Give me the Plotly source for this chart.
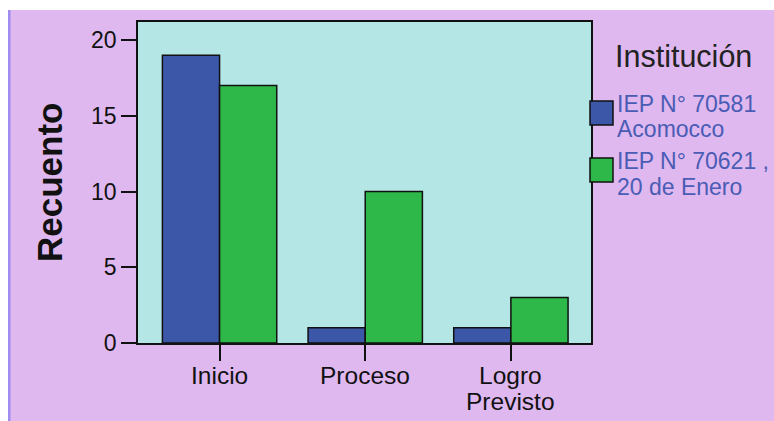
import plotly.graph_objects as go

categories = ["Inicio", "Proceso", "Logro<br>Previsto"]
series_names = ["IEP N° 70581", "IEP N° 70621"]
legend_lines = [["IEP N° 70581", "Acomocco"], ["IEP N° 70621 ,", "20 de Enero"]]
values_70581 = [19, 1, 1]
values_70621 = [17, 10, 3]
y_ticks = [0, 5, 10, 15, 20]
legend_title = "Institución"
y_title = "Recuento"

colors = ["#3C56A8", "#2EB84A"]
FONT = "Liberation Sans, Arial, sans-serif"

W, H = 774, 421
# plot area in page coordinates: x 138..591, y 22..343
L, T = 138, 22
R = W - 591
B = H - 343
pw, ph = W - L - R, H - T - B

def px(x):
    return (x - L) / pw

def py(y):
    return (H - B - y) / ph

fig = go.Figure()
for name, vals, col in zip(series_names, [values_70581, values_70621], colors):
    fig.add_trace(go.Bar(x=categories, y=vals, name=name,
                         marker=dict(color=col, line=dict(color="#111111", width=1.5)),
                         showlegend=False))

shapes = [
    dict(type="rect", xref="paper", yref="paper", x0=px(0), x1=px(W), y0=py(10), y1=py(0), fillcolor="white", line=dict(width=0), layer="below"),
    dict(type="rect", xref="paper", yref="paper", x0=px(0), x1=px(8), y0=py(H), y1=py(0), fillcolor="white", line=dict(width=0), layer="below"),
    dict(type="rect", xref="paper", yref="paper", x0=px(8), x1=px(10.5), y0=py(H), y1=py(10), fillcolor="#A08CF0", line=dict(width=0), layer="below"),
]
sq = [(101, 125), (158, 182)]
for (y0, y1), col in zip(sq, colors):
    shapes.append(dict(type="rect", xref="paper", yref="paper", x0=px(590), x1=px(613), y0=py(y1), y1=py(y0),
                       fillcolor=col, line=dict(color="#111111", width=1.5)))

annotations = [
    dict(text=legend_title, x=px(613), y=py(56), xref="paper", yref="paper", xanchor="left", yanchor="middle",
         showarrow=False, font=dict(family=FONT, size=30.5, color="#222222")),
    dict(text="<b>" + y_title + "</b>", x=px(50), y=py(183), xref="paper", yref="paper", xanchor="center", yanchor="middle",
         textangle=-90, showarrow=False, font=dict(family=FONT, size=35, color="#111111")),
]
line_y = [[104, 129], [161, 187]]
for lines, ys in zip(legend_lines, line_y):
    for t, yy in zip(lines, ys):
        annotations.append(dict(text=t, x=px(615), y=py(yy), xref="paper", yref="paper", xanchor="left", yanchor="middle",
                                showarrow=False, font=dict(family=FONT, size=23, color="#4A5CB4")))

# category labels under the axis, placed at each category through the x scale
label_line_y = [375, 402]
for cat in categories:
    for i, part in enumerate(cat.split("<br>")):
        annotations.append(dict(text=part, x=cat, xref="x", y=py(label_line_y[i]), yref="paper",
                                xanchor="center", yanchor="middle", showarrow=False,
                                font=dict(family=FONT, size=24.5, color="#111111")))

fig.update_layout(
    width=W, height=H,
    margin=dict(l=L, r=R, t=T, b=B, autoexpand=False),
    paper_bgcolor="#DFB8F0",
    plot_bgcolor="#B4E6E6",
    barmode="group", bargap=0.215, bargroupgap=0,
    shapes=shapes, annotations=annotations,
    font=dict(family=FONT, size=24, color="#111111"),
)
fig.update_xaxes(range=[-0.56, 2.55], automargin=False, showline=True, mirror=True, linecolor="#111111", linewidth=1.5,
                 ticks="outside", ticklen=16, tickwidth=1.5, tickcolor="#111111", showgrid=False,
                 showticklabels=False)
fig.update_yaxes(range=[0, 21.2], tickvals=y_ticks, automargin=False, showline=True, mirror=True, linecolor="#111111", linewidth=1.5,
                 ticks="outside", ticklen=15, tickwidth=1.5, tickcolor="#111111", showgrid=False, zeroline=False,
                 tickfont=dict(family=FONT, size=23, color="#111111"))

fig.write_html("out.html", config={"displayModeBar": False},
               post_script="document.body.style.margin='0';document.body.style.overflow='hidden';")
